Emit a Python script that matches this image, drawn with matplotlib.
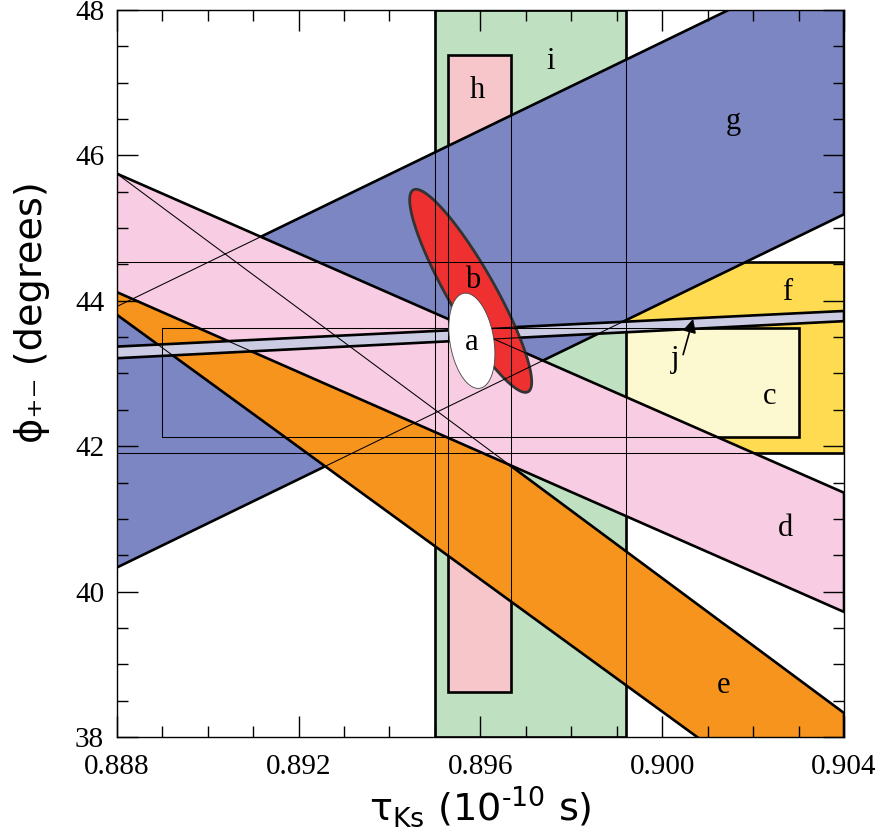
import numpy as np
import matplotlib
matplotlib.use("Agg")
import matplotlib.pyplot as plt
from matplotlib.patches import Polygon
from matplotlib.ticker import MultipleLocator, FormatStrFormatter

plt.rcParams["mathtext.fontset"] = "dejavusans"

# axis range
XLIM = (0.888, 0.904)
YLIM = (38.0, 48.0)

# sloped bands: edge values at x = 0.888 and x = 0.904  (upper edge, lower edge)
band_x = [0.888, 0.904]
g_upper, g_lower = [43.92, 48.77], [40.33, 45.19]
e_upper, e_lower = [45.75, 38.33], [43.81, 36.53]
d_upper, d_lower = [45.75, 41.36], [44.12, 39.72]
j_upper, j_lower = [43.37, 43.86], [43.21, 43.72]

# rectangles: (x0, x1, y0, y1)
f_box = (0.880, 0.904, 41.90, 44.53)
c_box = (0.8890, 0.9030, 42.13, 43.62)
i_box = (0.8950, 0.8992, 38.0, 48.0)
h_box = (0.89528, 0.89667, 38.62, 47.38)

# ellipses: centre, half-major vector, half-minor vector (data units)
b_centre, b_major, b_minor = (0.895787, 44.137), (-0.001264, 1.387), (0.000450, 0.162)
a_centre, a_major, a_minor = (0.895813, 43.450), (-0.000176, 0.653), (0.000475, 0.050)

# labels (x, baseline y)
labels = ["a", "b", "c", "d", "e", "f", "g", "h", "i", "j"]
lab_x = [0.89581, 0.89584, 0.90237, 0.90272, 0.90135, 0.90274, 0.90156, 0.89594, 0.89754, 0.90029]
lab_y = [43.32, 44.17, 42.58, 40.77, 38.61, 44.01, 46.36, 46.79, 47.19, 43.09]
arrow_tail = (0.90046, 43.26)
arrow_head = (0.90068, 43.75)

COL = {"f": "#fedb50", "c": "#fcf8d0", "i": "#bfe1c2", "h": "#f7c6cb",
       "g": "#7b86c3", "e": "#f7941d", "d": "#f8cce2", "j": "#cbcbe4",
       "b": "#ee3030", "a": "#ffffff"}
THICK, THIN = 1.9, 0.75


def band(upper, lower):
    return [(band_x[0], upper[0]), (band_x[1], upper[1]),
            (band_x[1], lower[1]), (band_x[0], lower[0])]


def box(b):
    x0, x1, y0, y1 = b
    return [(x0, y0), (x1, y0), (x1, y1), (x0, y1)]


def ellipse(c, u, v, n=300):
    t = np.linspace(0, 2 * np.pi, n)
    return np.column_stack([c[0] + np.cos(t) * u[0] + np.sin(t) * v[0],
                            c[1] + np.cos(t) * u[1] + np.sin(t) * v[1]])


fig = plt.figure(figsize=(8.88, 8.38), dpi=100)
ax = fig.add_axes([0.1314, 0.1205, 0.8191, 0.8676])

shapes = [("f", box(f_box)), ("c", box(c_box)), ("i", box(i_box)), ("h", box(h_box)),
          ("g", band(g_upper, g_lower)), ("e", band(e_upper, e_lower)),
          ("d", band(d_upper, d_lower)), ("j", band(j_upper, j_lower))]
z = 1.0
for key, pts in shapes:
    ax.add_patch(Polygon(pts, closed=True, facecolor=COL[key], edgecolor="black",
                         lw=THICK, zorder=z, joinstyle="miter"))
    z += 0.05

ax.add_patch(Polygon(ellipse(b_centre, b_major, b_minor), closed=True, facecolor=COL["b"],
                     edgecolor="#333333", lw=2.0, zorder=1.6))

# thin outlines of every region redrawn on top
for key, pts in shapes:
    ax.add_patch(Polygon(pts, closed=True, facecolor="none", edgecolor="black",
                         lw=THIN, zorder=1.8))

ax.add_patch(Polygon(ellipse(a_centre, a_major, a_minor), closed=True, facecolor=COL["a"],
                     edgecolor="#444444", lw=0.6, zorder=2.0))

for s, x, y in zip(labels, lab_x, lab_y):
    ax.text(x, y, s, ha="center", va="baseline", fontsize=22,
            family="Liberation Serif", zorder=3)
ax.annotate("", xy=arrow_head, xytext=arrow_tail, zorder=3,
            arrowprops=dict(arrowstyle="-|>", color="black", lw=1.2,
                            mutation_scale=20, shrinkA=0, shrinkB=0))

ax.set_xlim(*XLIM)
ax.set_ylim(*YLIM)
ax.set_axisbelow(False)
ax.xaxis.set_major_locator(MultipleLocator(0.004))
ax.xaxis.set_minor_locator(MultipleLocator(0.001))
ax.yaxis.set_major_locator(MultipleLocator(2))
ax.yaxis.set_minor_locator(MultipleLocator(0.5))
ax.xaxis.set_major_formatter(FormatStrFormatter("%.3f"))
ax.tick_params(which="both", direction="in", top=True, right=True, width=1.0)
ax.tick_params(which="major", length=15)
ax.tick_params(which="minor", length=8)
ax.tick_params(axis="x", which="major", pad=12)
ax.tick_params(axis="y", which="major", pad=9)
for lab in ax.get_xticklabels() + ax.get_yticklabels():
    lab.set_family("Liberation Serif")
    lab.set_fontsize(21)
for sp in ax.spines.values():
    sp.set_linewidth(1.0)

ax.set_xlabel("\u03c4$_{\\mathrm{Ks}}$ (10$^{\\mathrm{\u201010}}$ s)", fontsize=27.5,
              family="DejaVu Sans", labelpad=3)
ax.set_ylabel("\u03d5\u208a\u208b (degrees)", fontsize=27.5, family="DejaVu Sans")
ax.yaxis.set_label_coords(-0.092, 0.585)

fig.savefig("out.png", dpi=100)
